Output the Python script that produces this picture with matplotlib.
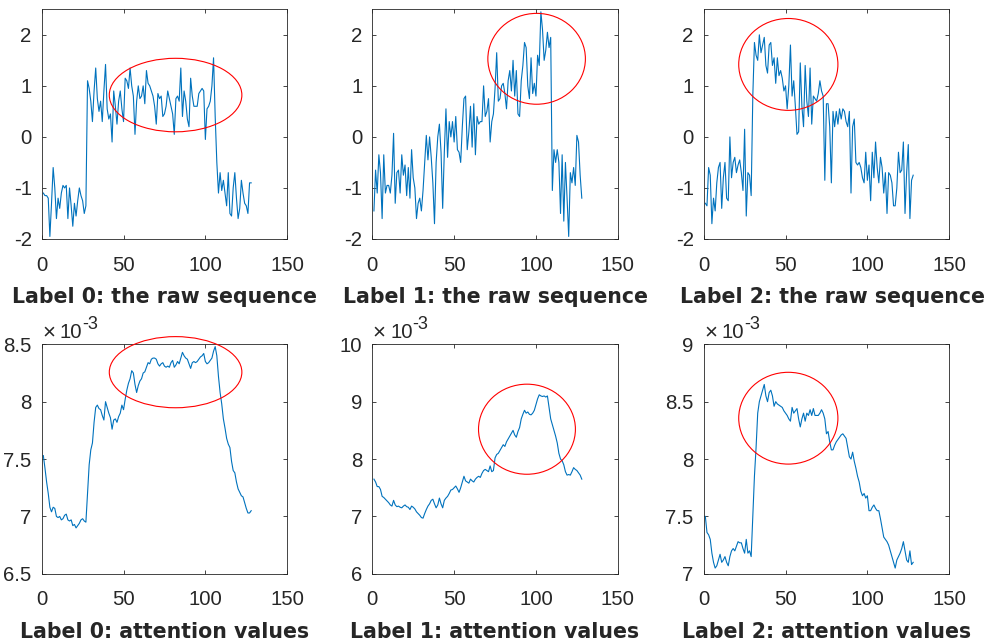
import matplotlib
matplotlib.use("Agg")
import matplotlib.pyplot as plt
from matplotlib.patches import Ellipse
import numpy as np

# ---------------- data ----------------
raw_label0 = [-1.10, -1.15, -1.15, -1.20, -1.95, -1.30, -0.60, -1.00, -1.60, -1.20,
              -1.40, -1.10, -0.95, -1.00, -0.95, -1.60, -1.00, -1.35, -1.75, -1.30,
              -1.55, -1.25, -1.00, -1.15, -1.25, -1.50, -1.35, 1.10, 0.95, 0.70,
              0.30, 0.90, 1.35, 0.75, 0.50, 0.70, 0.30, 0.90, 1.42, 0.55,
              0.35, 0.45, -0.10, 0.90, 0.60, 0.25, 0.70, 0.90, 0.55, 0.30,
              1.15, 1.10, 0.95, 1.35, 1.00, 0.80, 0.05, 0.70, 1.00, 0.75,
              0.80, 1.00, 0.65, 1.30, 1.05, 1.00, 0.90, 0.80, 0.60, 0.25,
              0.85, 0.75, 0.80, 0.40, 0.45, 0.60, 0.90, 0.75, 0.60, 0.45,
              0.05, 0.75, 0.80, 0.70, 1.35, 0.40, 0.90, 0.70, 0.35, 0.20,
              1.15, 0.80, 0.60, 0.60, 0.60, 0.85, 0.90, 0.95, 0.90, -0.05,
              0.55, 0.60, 0.70, 1.00, 1.55, 0.40, -0.50, -1.10, -0.70, -1.05,
              -0.85, -1.10, -1.35, -0.70, -1.50, -1.55, -1.00, -0.70, -1.20, -1.60,
              -1.40, -0.85, -1.10, -1.30, -1.35, -1.50, -0.90, -0.90]

raw_label1 = [-1.45, -0.65, -1.10, -0.35, -0.70, -1.60, -0.35, -1.10, -0.95, -0.95,
              -1.10, -0.75, 0.07, -1.30, -0.70, -0.65, -1.10, -0.35, -0.75, -0.55,
              -1.15, -0.60, -1.20, -0.25, -0.80, -1.00, -1.60, -1.30, -1.20, -1.45,
              -1.05, -0.50, 0.03, -0.45, 0.00, -0.40, -0.90, -1.70, -0.50, 0.00,
              0.25, -0.30, -1.40, -0.30, 0.55, -0.40, 0.30, 0.00, 0.30, -0.10,
              0.40, -0.25, -0.30, -0.50, 0.20, 0.75, 0.80, -0.25, 0.10, 0.60,
              -0.20, 0.65, -0.35, 0.40, 0.25, 0.30, 0.30, 1.00, 0.40, 0.50,
              0.75, -0.10, 0.30, 0.45, 0.95, 1.65, 0.70, 0.75, 1.00, 1.05,
              0.85, 0.55, 1.10, 1.30, 0.90, 1.50, 0.80, 1.30, 0.45, 0.40,
              1.10, 1.40, 1.85, 1.75, 1.00, 0.75, 1.55, 0.85, 1.05, 0.80,
              1.60, 1.40, 2.45, 2.10, 1.50, 1.70, 2.05, 1.75, 1.95, -1.05,
              -0.25, -0.50, -0.25, -0.50, -1.50, -0.35, -1.65, -0.50, -1.20, -1.95,
              -0.70, -0.90, -0.60, -0.95, 0.03, -0.10, -0.75, -1.20]

raw_label2 = [-1.30, -1.35, -0.60, -0.75, -1.70, -1.20, -1.45, -0.90, -0.60, -0.50,
              -1.40, -0.80, -0.50, -1.20, -1.25, 0.00, -0.80, -0.50, -0.40, -0.70,
              -0.55, -0.45, -0.70, -1.05, 0.15, -1.55, -0.70, -0.75, -1.15, 0.80,
              1.85, 1.60, 1.50, 2.00, 1.65, 1.80, 1.95, 1.40, 1.25, 1.80,
              1.85, 1.40, 1.55, 1.05, 1.55, 1.20, 1.30, 1.15, 0.90, 1.00,
              0.55, 1.00, 1.80, 0.80, 1.10, 0.60, 0.05, 0.10, 1.45, 0.60,
              0.20, 1.40, 0.70, 0.40, 1.35, 0.25, 0.80, 0.75, 0.70, 0.85,
              1.10, 0.90, 0.80, -0.85, 0.65, 0.65, 0.20, -0.90, 0.50, 0.20,
              0.50, 0.25, 0.55, 0.35, 0.55, 0.50, 0.30, 0.20, 0.50, -1.10,
              0.20, 0.35, -0.50, -0.55, -0.50, -0.60, -0.80, -0.90, -0.30, -0.85,
              -0.55, -1.25, -0.30, -0.80, -0.10, -0.60, -0.90, -0.40, -0.60, -1.10,
              -0.70, -1.50, -0.70, -0.75, -0.90, -1.35, -1.35, -1.00, -0.30, -0.70,
              -0.65, -0.10, -1.50, -0.70, -0.15, -1.60, -0.85, -0.75]

att_label0 = [7.53, 7.42, 7.30, 7.20, 7.08, 7.04, 7.08, 7.07, 7.00, 6.99,
              7.00, 6.97, 6.98, 7.01, 7.02, 6.97, 6.96, 6.97, 6.92, 6.93,
              6.90, 6.92, 6.94, 6.97, 6.98, 6.96, 6.95, 7.20, 7.45, 7.58,
              7.64, 7.82, 7.95, 7.97, 7.94, 7.93, 7.88, 7.84, 8.00, 7.95,
              7.90, 7.86, 7.76, 7.84, 7.85, 7.82, 7.87, 7.90, 7.97, 7.93,
              8.02, 8.10, 8.16, 8.20, 8.27, 8.25, 8.15, 8.08, 8.14, 8.18,
              8.20, 8.25, 8.26, 8.30, 8.34, 8.33, 8.37, 8.38, 8.38, 8.37,
              8.33, 8.31, 8.33, 8.34, 8.31, 8.30, 8.31, 8.30, 8.34, 8.36,
              8.30, 8.32, 8.35, 8.33, 8.38, 8.43, 8.40, 8.38, 8.37, 8.33,
              8.29, 8.34, 8.35, 8.34, 8.35, 8.37, 8.39, 8.40, 8.42, 8.35,
              8.33, 8.34, 8.36, 8.38, 8.44, 8.48, 8.40, 8.22, 8.08, 7.98,
              7.85, 7.77, 7.68, 7.63, 7.60, 7.48, 7.40, 7.38, 7.30, 7.24,
              7.21, 7.18, 7.17, 7.12, 7.07, 7.03, 7.03, 7.05]

att_label1 = [7.65, 7.60, 7.52, 7.52, 7.47, 7.35, 7.33, 7.30, 7.27, 7.24,
              7.20, 7.18, 7.28, 7.20, 7.17, 7.18, 7.16, 7.15, 7.18, 7.20,
              7.17, 7.16, 7.12, 7.18, 7.16, 7.13, 7.08, 7.05, 7.02, 6.98,
              6.97, 7.05, 7.12, 7.18, 7.22, 7.28, 7.30, 7.22, 7.15, 7.20,
              7.32, 7.22, 7.15, 7.28, 7.32, 7.35, 7.40, 7.46, 7.47, 7.50,
              7.53, 7.48, 7.42, 7.50, 7.60, 7.70, 7.62, 7.60, 7.58, 7.65,
              7.62, 7.60, 7.65, 7.68, 7.70, 7.68, 7.75, 7.80, 7.82, 7.80,
              7.78, 7.88, 7.78, 7.80, 8.02, 8.08, 8.10, 8.15, 8.20, 8.25,
              8.22, 8.30, 8.35, 8.40, 8.45, 8.50, 8.42, 8.38, 8.48, 8.55,
              8.70, 8.78, 8.85, 8.80, 8.82, 8.78, 8.77, 8.80, 8.85, 8.95,
              9.05, 9.12, 9.10, 9.09, 9.10, 9.08, 9.10, 8.90, 8.70, 8.60,
              8.50, 8.40, 8.28, 8.10, 8.00, 7.97, 7.90, 7.78, 7.72, 7.73,
              7.72, 7.78, 7.85, 7.82, 7.80, 7.76, 7.72, 7.65]

att_label2 = [7.50, 7.36, 7.34, 7.30, 7.18, 7.10, 7.05, 7.07, 7.12, 7.17,
              7.10, 7.12, 7.15, 7.10, 7.07, 7.15, 7.20, 7.22, 7.20, 7.24,
              7.28, 7.27, 7.27, 7.22, 7.18, 7.30, 7.18, 7.20, 7.15, 7.50,
              7.85, 8.10, 8.40, 8.50, 8.55, 8.60, 8.65, 8.55, 8.50, 8.58,
              8.60, 8.55, 8.46, 8.50, 8.48, 8.47, 8.46, 8.45, 8.42, 8.40,
              8.38, 8.35, 8.33, 8.45, 8.40, 8.42, 8.44, 8.35, 8.28, 8.35,
              8.40, 8.33, 8.40, 8.38, 8.43, 8.38, 8.44, 8.38, 8.38, 8.38,
              8.40, 8.43, 8.40, 8.35, 8.22, 8.24, 8.15, 8.08, 8.08, 8.12,
              8.15, 8.17, 8.19, 8.21, 8.22, 8.20, 8.18, 8.10, 8.02, 8.00,
              8.06, 7.98, 7.92, 7.85, 7.80, 7.72, 7.68, 7.70, 7.66, 7.68,
              7.55, 7.55, 7.58, 7.60, 7.57, 7.55, 7.55, 7.48, 7.40, 7.32,
              7.30, 7.28, 7.25, 7.20, 7.15, 7.10, 7.05, 7.12, 7.15, 7.18,
              7.22, 7.28, 7.20, 7.12, 7.10, 7.20, 7.08, 7.10]

series = [raw_label0, raw_label1, raw_label2, att_label0, att_label1, att_label2]
titles = ["Label 0: the raw sequence", "Label 1: the raw sequence", "Label 2: the raw sequence",
          "Label 0: attention values", "Label 1: attention values", "Label 2: attention values"]

x_ticks = [0, 50, 100, 150]
x_tick_labels = ["0", "50", "100", "150"]
y_limits = [(-2, 2.5), (-2, 2.5), (-2, 2.5), (6.5, 8.5), (6, 10), (7, 9)]
y_ticks = [[-2, -1, 0, 1, 2], [-2, -1, 0, 1, 2], [-2, -1, 0, 1, 2],
           [6.5, 7, 7.5, 8, 8.5], [6, 7, 8, 9, 10], [7, 7.5, 8, 8.5, 9]]
y_tick_labels = [["-2", "-1", "0", "1", "2"], ["-2", "-1", "0", "1", "2"], ["-2", "-1", "0", "1", "2"],
                 ["6.5", "7", "7.5", "8", "8.5"], ["6", "7", "8", "9", "10"], ["7", "7.5", "8", "8.5", "9"]]
scaled = [False, False, False, True, True, True]

# highlight ellipses (center x, center y, width, height) in data units
ellipse_cx = [81.8, 100.4, 51.7, 81.8, 94.5, 51.7]
ellipse_cy = [0.82, 1.53, 1.42, 8.257, 8.52, 8.356]
ellipse_w = [81.0, 59.6, 60.6, 81.0, 59.2, 60.6]
ellipse_h = [1.44, 1.78, 1.80, 0.62, 1.57, 0.80]

# ---------------- layout ----------------
W, H = 987, 644
col_left = [41.7, 372.3, 703.7]
ax_w = 245.5
row_top = [9.3, 344.3]
row_bot = [239.0, 573.8]
label_shift = [0, 0, 6, 0, 0, 0]

TXT = "#262626"
LINE = "#0072BD"
plt.rcParams["axes.unicode_minus"] = False

fig = plt.figure(figsize=(W / 100, H / 100), dpi=100)
fig.patch.set_facecolor("white")

for i, ys in enumerate(series):
    r, c = divmod(i, 3)
    l = col_left[c]
    t, b = row_top[r], row_bot[r]
    ax = fig.add_axes([l / W, 1 - b / H, ax_w / W, (b - t) / H])
    xs = np.arange(1, len(ys) + 1)
    ax.plot(xs, ys, color=LINE, lw=0.8)
    ax.set_xlim(0, 150)
    ax.set_ylim(*y_limits[i])
    ax.set_xticks(x_ticks)
    ax.set_xticklabels(x_tick_labels)
    ax.set_yticks(y_ticks[i])
    ax.set_yticklabels(y_tick_labels[i])
    for sp in ax.spines.values():
        sp.set_color(TXT)
        sp.set_linewidth(0.6)
    ax.tick_params(direction="in", top=True, right=True, length=3, width=0.6,
                   color=TXT, labelcolor=TXT, labelsize=14.7)
    ax.tick_params(axis="x", pad=12)
    ax.tick_params(axis="y", pad=7.2)
    for lab in ax.get_xticklabels() + ax.get_yticklabels():
        lab.set_fontfamily("Liberation Sans")
    e = Ellipse((ellipse_cx[i], ellipse_cy[i]), ellipse_w[i], ellipse_h[i],
                fill=False, edgecolor="#FF0000", lw=0.8, clip_on=False, zorder=5)
    ax.add_patch(e)
    if scaled[i]:
        ax.annotate("\u00d7", xy=(0, 1), xycoords="axes fraction",
                    xytext=(0.3, 4.5), textcoords="offset points",
                    ha="left", va="baseline", fontsize=16, color=TXT,
                    family="Liberation Sans")
        ax.annotate("10", xy=(0, 1), xycoords="axes fraction",
                    xytext=(12.8, 4.5), textcoords="offset points",
                    ha="left", va="baseline", fontsize=14.7, color=TXT,
                    family="Liberation Sans")
        ax.annotate("-3", xy=(0, 1), xycoords="axes fraction",
                    xytext=(29.0, 11.2), textcoords="offset points",
                    ha="left", va="baseline", fontsize=13, color=TXT,
                    family="Liberation Sans")
    # x label (bold caption)
    cx = (l + ax_w / 2 + label_shift[i]) / W
    base = b + 63.7
    fig.text(cx, 1 - base / H, titles[i], ha="center", va="baseline",
             fontsize=14.8, fontweight="bold", color=TXT, family="DejaVu Sans")

fig.savefig("out.png", dpi=100)
